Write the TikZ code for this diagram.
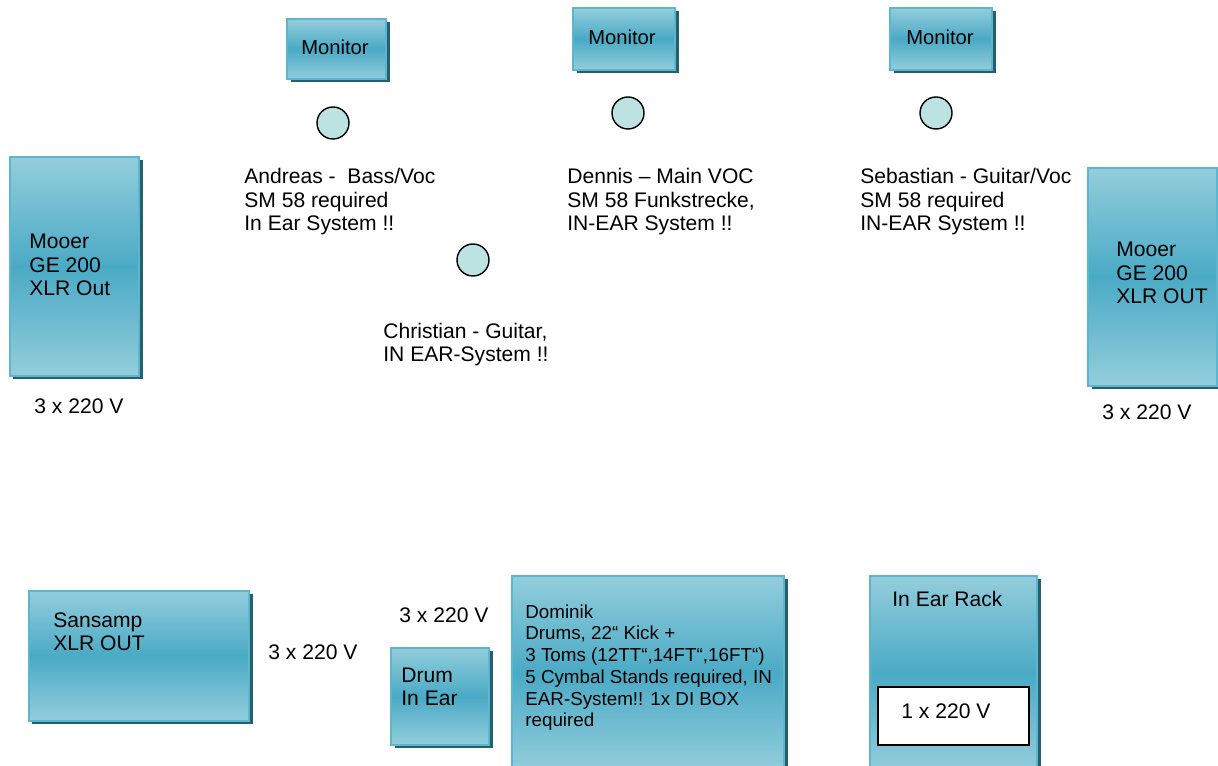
\documentclass[tikz,border=0pt]{standalone}
\usepackage{fontspec}
\setmainfont{Liberation Sans}
\usepackage{tikz}
\usetikzlibrary{shadows}
\definecolor{boxlight}{HTML}{93CDDC}
\definecolor{boxdark}{HTML}{4AAAC5}
\definecolor{boxedge}{HTML}{5EB6CE}
\definecolor{boxshade}{HTML}{25606E}
\definecolor{micfill}{HTML}{BDE2E2}
\tikzset{
  unit/.style={draw=boxedge, line width=1.1pt, top color=boxlight, bottom color=boxlight, middle color=boxdark,
    drop shadow={shadow xshift=0.07cm, shadow yshift=-0.07cm, fill=boxshade, opacity=1}},
  mic/.style={draw=black, line width=0.8pt, fill=micfill},
  lbl/.style={anchor=base west, inner sep=0pt, align=left, font=\fontsize{12pt}{13.6pt}\selectfont},
  small/.style={lbl, font=\fontsize{10.7pt}{12.4pt}\selectfont},
  montxt/.style={lbl, anchor=base, font=\fontsize{11.5pt}{13.6pt}\selectfont}
}

\begin{document}
\begin{tikzpicture}[x=0.02cm, y=-0.02cm]
\useasboundingbox (0,0) rectangle (1218,766);
\path[unit] (287,19) rectangle (386,79);  \node[montxt] (mon1) at (335,55) {Monitor};
\path[unit] (573,8) rectangle (675,70);   \node[montxt] (mon2) at (622,45) {Monitor};
\path[unit] (890,8) rectangle (992,70);   \node[montxt] (mon3) at (940,45) {Monitor};
\draw[mic] (333,123) circle (16);
\draw[mic] (628,113) circle (16);
\draw[mic] (936,113) circle (16);
\draw[mic] (473,260) circle (16);
\node[lbl] (andreas) at (244,231) {Andreas -~ Bass/Voc\\SM 58 required\\In Ear System !!};
\node[lbl] (dennis) at (567,231) {Dennis – Main VOC\\SM 58 Funkstrecke,\\IN-EAR System !!};
\node[lbl] (sebastian) at (860,231) {Sebastian - Guitar/Voc\\SM 58 required\\IN-EAR System !!};
\node[lbl] (christian) at (383,362) {Christian - Guitar,\\IN EAR-System !!};

\path[unit] (10,157) rectangle (139,376);
\node[lbl] (mooerL) at (29,296) {Mooer\\GE 200\\XLR Out};
\node[lbl] (powerL) at (34,414) {3 x 220 V};
\path[unit] (1088,168) rectangle (1217,386);
\node[lbl] (mooerR) at (1116,304) {Mooer\\GE 200\\XLR OUT};
\node[lbl] (powerR) at (1102,420) {3 x 220 V};

\path[unit] (29,591) rectangle (249,721);
\node[lbl] (sansamp) at (53,651) {Sansamp\\XLR OUT};
\node[lbl] (powerS) at (268,660) {3 x 220 V};
\node[lbl] (powerD) at (399,623) {3 x 220 V};
\path[unit] (391,648) rectangle (489,745);
\node[lbl] (drum) at (401,706) {Drum\\In Ear};
\path[unit] (512,576) rectangle (784,770);
\node[small] (dominik) at (525,727) {Dominik\\Drums, 22“ Kick +\\3 Toms (12TT“,14FT“,16FT“)\\5 Cymbal Stands required, IN\\EAR-System!! 1x DI BOX\\required};
\path[unit] (870,576) rectangle (1037,770);
\node[lbl] (rack) at (892,607) {In Ear Rack};
\draw[fill=white, line width=0.8pt] (878,687) rectangle (1029,745);
\node[lbl] (powerR1) at (901,719) {1 x 220 V};
\end{tikzpicture}
\end{document}
